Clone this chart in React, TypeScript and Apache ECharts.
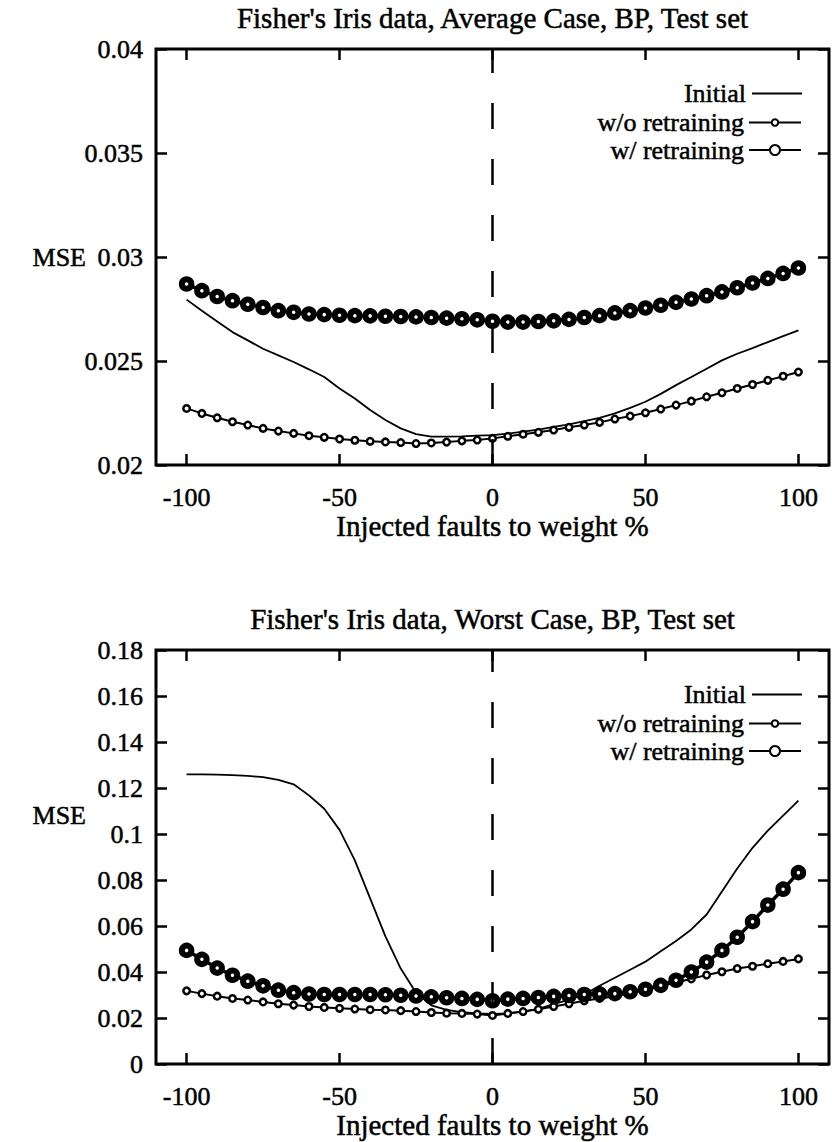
import React, { useEffect, useRef } from "react";
import * as echarts from "echarts";

// Injected fault magnitude (% of weight), sampled every 5 %
const faultPct = [
  -100, -95, -90, -85, -80, -75, -70, -65, -60, -55, -50, -45, -40, -35, -30, -25, -20, -15, -10, -5,
  0, 5, 10, 15, 20, 25, 30, 35, 40, 45, 50, 55, 60, 65, 70, 75, 80, 85, 90, 95, 100,
];
const xTickValues = [-100, -50, 0, 50, 100];

// Average case
const avgInitial = [
  0.02795, 0.02742, 0.0269, 0.02639, 0.02599, 0.02559, 0.02527, 0.02495, 0.0246, 0.02423, 0.02368,
  0.0232, 0.02264, 0.02216, 0.02176, 0.02148, 0.02136, 0.02136, 0.02138, 0.02141, 0.02144, 0.02151,
  0.0216, 0.0217, 0.02183, 0.02195, 0.02211, 0.02227, 0.02248, 0.02275, 0.02304, 0.02342, 0.02384,
  0.02423, 0.02463, 0.02503, 0.02535, 0.02562, 0.02591, 0.0262, 0.02647,
];
const avgWithout = [
  0.02272, 0.02248, 0.02227, 0.02208, 0.02192, 0.02176, 0.02163, 0.02152, 0.02141, 0.02133, 0.02125,
  0.02119, 0.02114, 0.02111, 0.02108, 0.02103, 0.02106, 0.0211, 0.02116, 0.0212, 0.02128, 0.02138,
  0.02148, 0.02157, 0.02168, 0.02181, 0.02192, 0.02205, 0.02221, 0.02235, 0.02251, 0.02269, 0.02288,
  0.02307, 0.02328, 0.02347, 0.02368, 0.02387, 0.02407, 0.02427, 0.02447,
];
const avgWith = [
  0.0287, 0.02838, 0.0281, 0.0279, 0.02773, 0.02757, 0.02742, 0.02734, 0.02726, 0.02723, 0.0272,
  0.02718, 0.02717, 0.02715, 0.02714, 0.02712, 0.02709, 0.02706, 0.02703, 0.02698, 0.02691, 0.02687,
  0.02687, 0.0269, 0.02693, 0.027, 0.02709, 0.02718, 0.02731, 0.02742, 0.02755, 0.02768, 0.02782,
  0.02798, 0.02814, 0.02832, 0.02852, 0.02875, 0.02897, 0.02921, 0.02947,
];

// Worst case
const worstInitial = [
  0.1259, 0.1259, 0.1258, 0.1256, 0.1253, 0.1247, 0.1235, 0.1216, 0.1168, 0.111, 0.1018, 0.0885,
  0.072, 0.0555, 0.0415, 0.031, 0.0255, 0.0235, 0.0225, 0.022, 0.0218, 0.022, 0.0228, 0.024, 0.026,
  0.028, 0.0302, 0.034, 0.0375, 0.041, 0.0445, 0.049, 0.0535, 0.0585, 0.065, 0.075, 0.085, 0.094,
  0.1015, 0.108, 0.1145,
];
const worstWithout = [
  0.0318, 0.0306, 0.0295, 0.0285, 0.0278, 0.027, 0.0262, 0.0256, 0.025, 0.0246, 0.0242, 0.0239,
  0.0236, 0.0235, 0.0232, 0.0228, 0.0224, 0.0221, 0.022, 0.0217, 0.0211, 0.022, 0.0228, 0.0238,
  0.025, 0.0262, 0.0275, 0.0285, 0.0295, 0.0308, 0.0322, 0.0338, 0.0355, 0.037, 0.0387, 0.0401,
  0.0415, 0.0425, 0.0436, 0.0446, 0.0457,
];
const worstWith = [
  0.0494, 0.0455, 0.0417, 0.0386, 0.036, 0.034, 0.0321, 0.031, 0.0304, 0.0302, 0.0302, 0.0302,
  0.0302, 0.0301, 0.0299, 0.0296, 0.0292, 0.0288, 0.0285, 0.0281, 0.0275, 0.0282, 0.0285, 0.0289,
  0.0294, 0.0298, 0.0302, 0.0305, 0.0306, 0.0314, 0.0325, 0.0342, 0.0364, 0.04, 0.0443, 0.0494,
  0.0551, 0.0619, 0.0691, 0.076, 0.0832,
];

const titles = [
  "Fisher's Iris data, Average Case, BP, Test set",
  "Fisher's Iris data, Worst Case, BP, Test set",
];
const seriesNames = ["Initial", "w/o retraining", "w/ retraining"];
const xAxisTitle = "Injected faults to weight %";
const yAxisTitle = "MSE";

const FONT = "Liberation Serif";
const TICK_FS = 26;
const TITLE_FS = 29;
const LEGEND_FS = 26;
// a hairline outline gives the glyphs the weight of printed type
const INK = { textBorderColor: "#000", textBorderWidth: 0.5 };

const pairs = (ys: number[]) => faultPct.map((x, i) => [x, ys[i]]);

function buildOption() {
  const grids = [
    { left: 156, top: 49, width: 673, height: 416 },
    { left: 156, top: 650, width: 673, height: 414 },
  ];
  const yRanges = [
    { min: 0.02, max: 0.04, interval: 0.005 },
    { min: 0, max: 0.18, interval: 0.02 },
  ];
  const data = [
    [avgInitial, avgWithout, avgWith],
    [worstInitial, worstWithout, worstWith],
  ];
  // y centre of each legend row, measured from the top of the frame
  const legendRowOffsets = [44.5, 73.5, 101];
  const mseY = [257, 815];

  const tickStyle = { color: "#000", width: 2.5 };
  const tickText = { fontFamily: FONT, fontSize: TICK_FS, color: "#000", ...INK };
  const bigText = { fontFamily: FONT, fontSize: TITLE_FS, color: "#000", ...INK };
  const hiddenLine = { show: false, onZero: false };

  const xAxes: any[] = [];
  const yAxes: any[] = [];
  const series: any[] = [];
  const legends: any[] = [];
  const graphics: any[] = [];

  grids.forEach((g, gi) => {
    xAxes.push({
      gridIndex: gi,
      type: "value",
      min: -110,
      max: 110,
      position: "bottom",
      axisLine: hiddenLine,
      splitLine: { show: false },
      axisTick: { inside: true, length: 11, lineStyle: tickStyle, customValues: xTickValues },
      axisLabel: { ...tickText, margin: 19, customValues: xTickValues },
      name: xAxisTitle,
      nameLocation: "middle",
      nameGap: 42,
      nameTextStyle: bigText,
    });
    xAxes.push({
      gridIndex: gi,
      type: "value",
      min: -110,
      max: 110,
      position: "top",
      axisLine: hiddenLine,
      splitLine: { show: false },
      axisTick: { inside: true, length: 11, lineStyle: tickStyle, customValues: xTickValues },
      axisLabel: { show: false, customValues: xTickValues },
    });
    const yr = yRanges[gi];
    yAxes.push({
      gridIndex: gi,
      type: "value",
      ...yr,
      position: "left",
      axisLine: hiddenLine,
      splitLine: { show: false },
      axisTick: { inside: true, length: 11, lineStyle: tickStyle },
      axisLabel: { ...tickText, margin: 13 },
    });
    yAxes.push({
      gridIndex: gi,
      type: "value",
      ...yr,
      position: "right",
      axisLine: hiddenLine,
      splitLine: { show: false },
      axisTick: { inside: true, length: 11, lineStyle: tickStyle },
      axisLabel: { show: false },
    });

    const xi = gi * 2;
    const yi = gi * 2;
    const [ini, wo, w] = data[gi];

    series.push({
      name: seriesNames[0],
      type: "line",
      xAxisIndex: xi,
      yAxisIndex: yi,
      data: pairs(ini),
      showSymbol: false,
      symbol: "none",
      lineStyle: { color: "#000", width: 1.8 },
      itemStyle: { color: "#000" },
      silent: true,
      markLine: {
        silent: true,
        symbol: "none",
        label: { show: false },
        lineStyle: { color: "#000", width: 2.5, type: [26, 30] },
        data: [{ xAxis: 0 }],
      },
      z: 2,
    });
    series.push({
      name: seriesNames[1],
      type: "line",
      xAxisIndex: xi,
      yAxisIndex: yi,
      data: pairs(wo),
      symbol: "circle",
      symbolSize: 6.5,
      lineStyle: { color: "#000", width: 2 },
      itemStyle: { color: "#fff", borderColor: "#000", borderWidth: 2.5 },
      silent: true,
      z: 3,
    });
    series.push({
      name: seriesNames[2],
      type: "line",
      xAxisIndex: xi,
      yAxisIndex: yi,
      data: pairs(w),
      symbol: "circle",
      symbolSize: 9.5,
      lineStyle: { color: "#000", width: 3.5 },
      itemStyle: { color: "#fff", borderColor: "#000", borderWidth: 6 },
      silent: true,
      z: 4,
    });

    // one legend per row so each sample can have its own marker size
    const rowIcon = [
      { icon: "path://M0 0H100V4H0Z", itemHeight: 2 },
      { icon: undefined, itemHeight: 8 },
      { icon: undefined, itemHeight: 12.5 },
    ];
    seriesNames.forEach((name, k) => {
      const lineH = 28;
      legends.push({
        orient: "vertical",
        align: "right",
        right: 30,
        top: g.top + legendRowOffsets[k] - lineH / 2,
        itemWidth: 52,
        itemHeight: rowIcon[k].itemHeight,
        ...(rowIcon[k].icon ? { icon: rowIcon[k].icon } : {}),
        itemGap: 0,
        selectedMode: false,
        padding: 0,
        textStyle: { fontFamily: FONT, fontSize: LEGEND_FS, color: "#000", lineHeight: lineH, ...INK },
        data: [name],
      });
    });

    graphics.push({
      type: "text",
      x: g.left + g.width / 2,
      y: g.top - 31,
      style: {
        text: titles[gi],
        font: `${TITLE_FS}px "${FONT}"`,
        fill: "#000",
        stroke: "#000",
        lineWidth: 0.5,
        align: "center",
        verticalAlign: "middle",
        textAlign: "center",
        textVerticalAlign: "middle",
      },
    });

    graphics.push({
      type: "text",
      x: 86,
      y: mseY[gi],
      style: {
        text: yAxisTitle,
        font: `${TICK_FS}px "${FONT}"`,
        fill: "#000",
        stroke: "#000",
        lineWidth: 0.5,
        align: "right",
        verticalAlign: "middle",
        textAlign: "right",
        textVerticalAlign: "middle",
      },
    });
  });

  return {
    animation: false,
    backgroundColor: "#fff",
    grid: grids.map((g) => ({
      ...g,
      show: true,
      borderColor: "#000",
      borderWidth: 3,
      backgroundColor: "transparent",
    })),
    xAxis: xAxes,
    yAxis: yAxes,
    legend: legends,
    series,
    graphic: graphics,
  };
}

export default function App() {
  const ref = useRef<HTMLDivElement>(null);
  useEffect(() => {
    document.body.style.margin = "0";
    const chart = echarts.init(ref.current!, null, { renderer: "svg" });
    chart.setOption(buildOption() as any);
    return () => chart.dispose();
  }, []);
  return <div ref={ref} style={{ width: 832, height: 1142, background: "#fff" }} />;
}
